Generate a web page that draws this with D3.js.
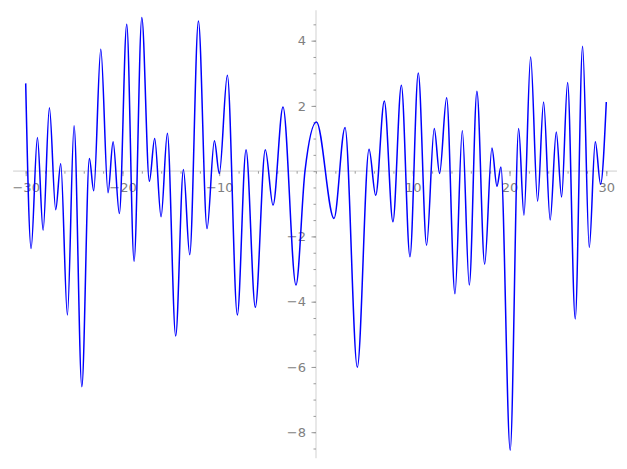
<!DOCTYPE html>
<html>
<head>
<meta charset="utf-8">
<script src="https://cdn.jsdelivr.net/npm/d3@7"></script>
<style>
  body { margin: 0; background: #fff; }
  svg { display: block; }
  .tick text { font-family: "DejaVu Sans", sans-serif; font-size: 13px; fill: #808080; }
</style>
</head>
<body>
<div id="plot-container"></div>
<script>
const w = 627;
const h = 469;

// curve: local extremes (plus a few crossings)
const xs = [-30.0, -29.44, -28.79, -28.2, -27.55, -26.9, -26.38, -25.69, -25.0, -24.2,
  -23.42, -22.97, -22.24, -21.49, -20.97, -20.32, -19.56, -18.8, -18.0, -17.22,
  -16.67, -16.01, -15.36, -14.5, -13.7, -13.05, -12.15, -11.26, -10.5, -9.99,
  -9.16, -8.13, -7.23, -6.27, -5.24, -4.44, -3.41, -2.07, -1.14, 0.05, 1.86,
  3.0, 4.27, 5.48, 6.17, 7.06, 7.95, 8.82, 9.71, 10.57, 11.43,
  12.22, 12.77, 13.5, 14.36, 15.12, 15.84, 16.63, 17.43, 18.18, 18.7,
  19.11, 20.07, 20.94, 21.49, 22.18, 22.9, 23.52, 24.2, 24.83, 25.38,
  26.0, 26.79, 27.55, 28.24, 28.86, 29.41, 30.0];
const ys = [2.69, -2.37, 1.03, -1.81, 1.94, -1.18, 0.23, -4.41, 1.39, -6.61,
  0.39, -0.6, 3.74, -0.66, 0.9, -1.3, 4.5, -2.76, 4.71, -0.31,
  1.0, -1.4, 1.16, -5.05, 0.05, -2.56, 4.6, -1.76, 0.93, -0.07,
  2.94, -4.41, 0.66, -4.17, 0.66, -1.04, 1.97, -3.49, 0.0, 1.51, -1.45,
  1.34, -6.01, 0.67, -0.74, 2.15, -1.55, 2.63, -2.62, 3.01, -2.27,
  1.31, -0.07, 2.25, -3.76, 1.24, -3.49, 2.45, -2.85, 0.71, -0.46,
  0.13, -8.55, 1.31, -1.35, 3.5, -0.92, 2.12, -1.5, 1.2, -0.79,
  2.72, -4.53, 3.83, -2.34, 0.9, -0.4, 2.12];

const xMajor = [-30, -20, -10, 10, 20, 30];
const xMinor = d3.range(-30, 31, 2);
const yMajor = [4, 2, -2, -4, -6, -8];
const yMinor = d3.range(-8.5, 4.51, 0.5);
const xExtent = [-31.3, 31.1];
const yExtent = [-8.8, 4.93];

const xScale = d3.scaleLinear().domain([-30, 30]).range([25.7, 606.3]);
const yScale = d3.scaleLinear().domain([-8.8, 4.93]).range([458.3, 10.3]);

const svg = d3.select('#plot-container')
    .append('svg')
    .attr('width', w)
    .attr('height', h);

const fmt = d => d3.format('d')(d).replace('-', '\u2212');

// axis lines
svg.append('line')
    .attr('x1', xScale(xExtent[0])).attr('x2', xScale(xExtent[1]))
    .attr('y1', yScale(0)).attr('y2', yScale(0))
    .attr('stroke', '#e3e3e3').attr('stroke-width', 1.6);
svg.append('line')
    .attr('x1', xScale(0)).attr('x2', xScale(0))
    .attr('y1', yScale(yExtent[0])).attr('y2', yScale(yExtent[1]))
    .attr('stroke', '#e3e3e3').attr('stroke-width', 1.6);

// x ticks
const xMinorAxis = d3.axisBottom(xScale).tickValues(xMinor).tickSize(2.5).tickFormat('');
const xAxis = d3.axisBottom(xScale).tickValues(xMajor).tickSize(5).tickPadding(7).tickFormat(fmt);
svg.append('g').attr('transform', 'translate(0,' + yScale(0) + ')').call(xMinorAxis);
svg.append('g').attr('id', 'x-axis').attr('transform', 'translate(0,' + yScale(0) + ')').call(xAxis);

// y ticks
const yMinorAxis = d3.axisLeft(yScale).tickValues(yMinor).tickSize(2.5).tickFormat('');
const yAxis = d3.axisLeft(yScale).tickValues(yMajor).tickSize(4.5).tickPadding(5.5).tickFormat(fmt);
svg.append('g').attr('transform', 'translate(' + xScale(0) + ',0)').call(yMinorAxis);
svg.append('g').attr('id', 'y-axis').attr('transform', 'translate(' + xScale(0) + ',0)').call(yAxis);

svg.selectAll('.domain').remove();
svg.selectAll('.tick line').attr('stroke', '#9a9a9a').attr('stroke-width', 1);

// the curve
const pts = xs.map((x, i) => [x, ys[i]]);
const line = d3.line()
    .x(d => xScale(d[0]))
    .y(d => yScale(d[1]))
    .curve(d3.curveMonotoneX);

svg.append('path')
    .datum(pts)
    .attr('d', line)
    .attr('fill', 'none')
    .attr('stroke', '#0000ff')
    .attr('stroke-width', 1.5);
</script>
</body>
</html>
